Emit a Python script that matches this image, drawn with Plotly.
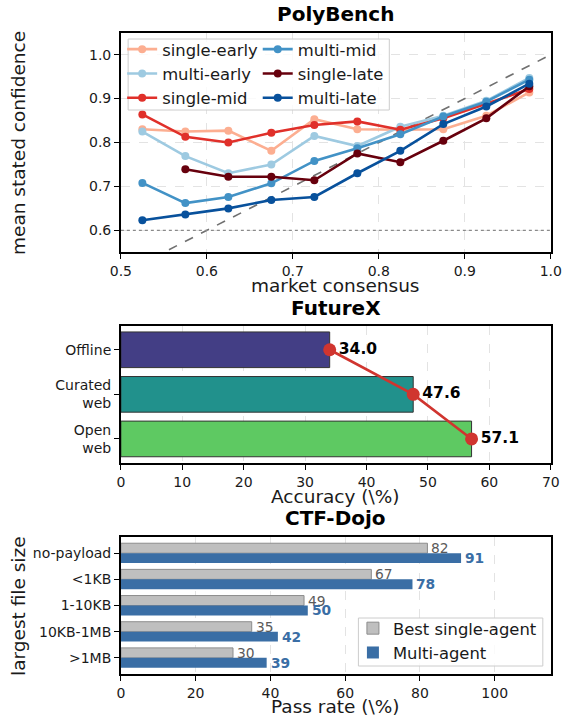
import plotly.graph_objects as go

W, H = 571, 720
FONT = "DejaVu Sans"

# ---------------- Panel 1: PolyBench ----------------
consensus = [0.525, 0.575, 0.625, 0.675, 0.725, 0.775, 0.825, 0.875, 0.925, 0.975]
single_early = [0.830, 0.825, 0.827, 0.781, 0.853, 0.830, 0.829, 0.830, 0.861, 0.914]
multi_early = [0.825, 0.769, 0.730, 0.750, 0.815, 0.792, 0.836, 0.861, 0.895, 0.947]
single_mid = [0.864, 0.813, 0.800, 0.822, 0.840, 0.848, 0.829, 0.855, 0.888, 0.922]
multi_mid = [0.708, 0.662, 0.676, 0.707, 0.758, 0.787, 0.819, 0.859, 0.893, 0.943]
single_late = [None, 0.739, 0.722, 0.722, 0.714, 0.775, 0.755, 0.804, 0.855, 0.928]
multi_late = [0.623, 0.636, 0.650, 0.669, 0.676, 0.730, 0.781, 0.842, 0.882, 0.934]
chance_level = 0.6

# ---------------- Panel 2: FutureX ----------------
settings = ["Offline", "Curated\nweb", "Open\nweb"]
accuracy = [34.0, 47.6, 57.1]

# ---------------- Panel 3: CTF-Dojo ----------------
file_sizes = ["no-payload", "<1KB", "1-10KB", "10KB-1MB", ">1MB"]
single_agent = [82, 67, 49, 35, 30]
multi_agent = [91, 78, 50, 42, 39]


def px_x(p):
    # target pixel -> paper fraction (compensates the horizontal mapping of the capture)
    return ((p - 10.5) / 0.9645) / W


def px_y(p):
    return 1 - p / H


fig = go.Figure()

series = [
    ("single-early", single_early, "#fcae91", "legend", 1),
    ("multi-early", multi_early, "#9ecae1", "legend", 2),
    ("single-mid", single_mid, "#e0302a", "legend", 3),
    ("multi-mid", multi_mid, "#4292c6", "legend2", 1),
    ("single-late", single_late, "#67000d", "legend2", 2),
    ("multi-late", multi_late, "#08519c", "legend2", 3),
]

# reference lines
fig.add_trace(go.Scatter(x=[0.5, 1.0], y=[0.5, 1.0], mode="lines",
                         line=dict(color="#707070", width=1.6, dash="dash"),
                         showlegend=False, hoverinfo="skip", xaxis="x", yaxis="y"))
fig.add_trace(go.Scatter(x=[0.5, 1.0], y=[chance_level, chance_level], mode="lines",
                         line=dict(color="#8a8a8a", width=1.3, dash="dot"),
                         showlegend=False, hoverinfo="skip", xaxis="x", yaxis="y"))

for name, vals, col, leg, rank in series:
    fig.add_trace(go.Scatter(
        x=consensus, y=vals, mode="lines+markers", name=name,
        line=dict(color=col, width=2.6), marker=dict(color=col, size=8),
        legend=leg, legendrank=rank, xaxis="x", yaxis="y", connectgaps=False))

# Panel 2 bars
bar_colors = ["#433e85", "#21918c", "#5ec962"]
pos2 = list(range(len(settings)))
fig.add_trace(go.Bar(
    x=accuracy, y=pos2, orientation="h", width=0.8,
    marker=dict(color=bar_colors, line=dict(color="#333333", width=1)),
    showlegend=False, xaxis="x2", yaxis="y2"))
fig.add_trace(go.Scatter(
    x=accuracy, y=pos2, mode="lines+markers+text",
    text=[f"{v:.1f}" for v in accuracy], textposition="middle right",
    textfont=dict(family=FONT, size=15.5, color="black", weight="bold"),
    line=dict(color="#d0352f", width=2.6), marker=dict(color="#d0352f", size=13),
    showlegend=False, xaxis="x2", yaxis="y2", cliponaxis=False))

# Panel 3 bars
h = 0.38
pos3 = list(range(len(file_sizes)))
fig.add_trace(go.Bar(
    x=single_agent, y=[p - h / 2 for p in pos3], orientation="h", width=h,
    marker=dict(color="#bfbfbf", line=dict(color="#8c8c8c", width=1)),
    name="Best single-agent", legend="legend3", xaxis="x3", yaxis="y3"))
fig.add_trace(go.Bar(
    x=multi_agent, y=[p + h / 2 for p in pos3], orientation="h", width=h,
    marker=dict(color="#3a6ea5", line=dict(color="#3a6ea5", width=0)),
    name="Multi-agent", legend="legend3", xaxis="x3", yaxis="y3"))

for v, p in zip(single_agent, pos3):
    fig.add_annotation(x=v, y=p - h / 2, xref="x3", yref="y3", text=str(v),
                       xanchor="left", yanchor="middle", xshift=2, showarrow=False,
                       font=dict(family=FONT, size=13.8, color="#5a5a5a"))
for v, p in zip(multi_agent, pos3):
    fig.add_annotation(x=v, y=p + h / 2, xref="x3", yref="y3", text=f"<b>{v}</b>",
                       xanchor="left", yanchor="middle", xshift=2, showarrow=False,
                       font=dict(family=FONT, size=13.8, color="#3a6ea5"))

axis_common = dict(showline=True, mirror=True, linecolor="black", linewidth=1.6,
                   ticks="outside", ticklen=5, tickwidth=1.3, tickcolor="black",
                   tickfont=dict(family=FONT, size=14, color="#1a1a1a"),
                   zeroline=False)
grid = dict(showgrid=True, gridcolor="#e3e3e3", griddash="dash", gridwidth=1)

xd = [px_x(120.7), px_x(552)]


def esc(s):
    return s.replace("<", "&lt;").replace(">", "&gt;").replace("\n", "<br>")


legend_font = dict(family=FONT, size=16.4, color="#1a1a1a")
fig.update_layout(
    width=W, height=H, margin=dict(l=0, r=0, t=0, b=0),
    plot_bgcolor="white", paper_bgcolor="white",
    font=dict(family=FONT, color="black"),
    barmode="overlay",
    xaxis=dict(domain=xd, anchor="y", range=[0.5, 1.0],
               tickvals=[0.5, 0.6, 0.7, 0.8, 0.9, 1.0], tickformat=".1f",
               **grid, **axis_common),
    yaxis=dict(domain=[px_y(252.3), px_y(32.7)], anchor="x", range=[0.55, 1.05],
               tickvals=[0.6, 0.7, 0.8, 0.9, 1.0], tickformat=".1f",
               **grid, **axis_common),
    xaxis2=dict(domain=xd, anchor="y2", range=[0, 70], dtick=10,
                **grid, **axis_common),
    yaxis2=dict(domain=[px_y(463), px_y(325.7)], anchor="x2", range=[2.54, -0.54],
                tickvals=pos2, ticktext=[esc(s) for s in settings], showgrid=False,
                **axis_common),
    xaxis3=dict(domain=xd, anchor="y3", range=[0, 115], tickvals=[0, 20, 40, 60, 80, 100],
                **grid, **axis_common),
    yaxis3=dict(domain=[px_y(674), px_y(537)], anchor="x3", range=[4.618, -0.618],
                tickvals=pos3, ticktext=[esc(s) for s in file_sizes], showgrid=False,
                **axis_common),
    legend=dict(x=px_x(122), y=px_y(32), xanchor="left", yanchor="top",
                bgcolor="rgba(0,0,0,0)", borderwidth=0, itemwidth=30,
                font=legend_font, tracegroupgap=0),
    legend2=dict(x=px_x(258), y=px_y(32), xanchor="left", yanchor="top",
                 bgcolor="rgba(0,0,0,0)", borderwidth=0, itemwidth=30,
                 font=legend_font, tracegroupgap=0),
    legend3=dict(x=px_x(353.5), y=px_y(611), xanchor="left", yanchor="top",
                 bgcolor="rgba(0,0,0,0)", borderwidth=0,
                 itemwidth=30, font=legend_font),
    shapes=[
        dict(type="rect", xref="paper", yref="paper",
             x0=px_x(128), x1=px_x(390), y0=px_y(110), y1=px_y(39),
             fillcolor="rgba(255,255,255,0.8)", line=dict(color="#cccccc", width=1),
             layer="above"),
        dict(type="rect", xref="paper", yref="paper",
             x0=px_x(359), x1=px_x(544), y0=px_y(666), y1=px_y(618),
             fillcolor="rgba(255,255,255,0.8)", line=dict(color="#cccccc", width=1),
             layer="above"),
    ],
)

title_font = dict(family=FONT, size=20, color="black", weight="bold")
label_font = dict(family=FONT, size=18.5, color="#1a1a1a")
ann = [
    ("PolyBench", 336.5, 14, title_font, 0),
    ("FutureX", 336.5, 308, title_font, 0),
    ("CTF-Dojo", 336.5, 518, title_font, 0),
    ("market consensus", 336.5, 286, label_font, 0),
    ("Accuracy (\\%)", 336.5, 496, label_font, 0),
    ("Pass rate (\\%)", 336.5, 706.5, label_font, 0),
    ("mean stated confidence", 18, 142.5, label_font, -90),
    ("largest file size", 18, 605.5, label_font, -90),
]
for text, x, y, f, ang in ann:
    fig.add_annotation(text=text, x=px_x(x), y=px_y(y), xref="paper", yref="paper",
                       xanchor="center", yanchor="middle", showarrow=False,
                       font=f, textangle=ang)

fig.write_html("out.html", config={"displayModeBar": False},
               post_script="document.body.style.margin='0';document.body.style.overflow='hidden';")
